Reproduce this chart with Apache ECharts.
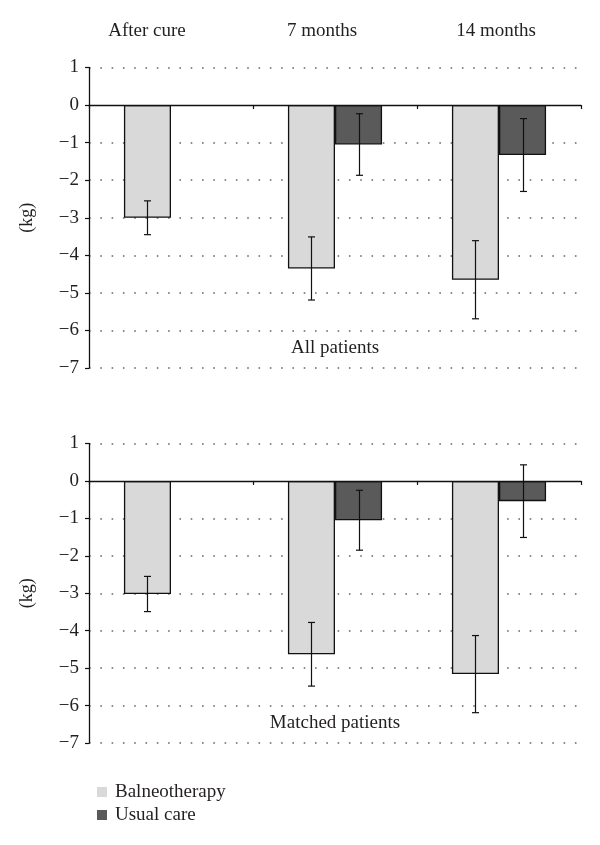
<!DOCTYPE html>
<html><head><meta charset="utf-8">
<script src="https://cdn.jsdelivr.net/npm/echarts@6/dist/echarts.min.js"></script>
<style>html,body{margin:0;padding:0;background:#fff}#c{width:600px;height:845px}</style>
</head><body><div id="c"></div>
<script>
const categories = ['After cure', '7 months', '14 months'];
const allBalneo = [-3.0, -4.35, -4.65];
const allBalneoErr = [0.45, 0.84, 1.04];
const allUsual = [null, -1.05, -1.33];
const allUsualErr = [null, 0.82, 0.97];
const matchedBalneo = [-3.02, -4.63, -5.16];
const matchedBalneoErr = [0.47, 0.85, 1.03];
const matchedUsual = [null, -1.05, -0.54];
const matchedUsualErr = [null, 0.80, 0.97];
const panelTitles = ['All patients', 'Matched patients'];
const seriesNames = ['Balneotherapy', 'Usual care'];
const yMin = -7, yMax = 1;

const FONT = 'Liberation Serif';
const TXT = '#231f20';
const BAR_FRAC = 0.287;
const colors = ['#d9d9d9', '#5a5a5a'];

function errData(means, errs) {
  const out = [];
  means.forEach((m, i) => { if (m != null) out.push([i, m, errs[i]]); });
  return out;
}
function errRender(side) {
  return function (params, api) {
    const i = api.value(0), m = api.value(1), e = api.value(2);
    const bw = api.size([1, 0])[0] * BAR_FRAC;
    const c = api.coord([i, m]);
    const x = Math.round(c[0] + side * bw / 2) + 0.5;
    const top = api.coord([i, m + e])[1];
    const bot = api.coord([i, m - e])[1];
    const cap = 3.5;
    const st = { stroke: '#111', lineWidth: 1.2 };
    return {
      type: 'group',
      children: [
        { type: 'line', shape: { x1: x, y1: top, x2: x, y2: bot }, style: st },
        { type: 'line', shape: { x1: x - cap, y1: top, x2: x + cap, y2: top }, style: st },
        { type: 'line', shape: { x1: x - cap, y1: bot, x2: x + cap, y2: bot }, style: st }
      ]
    };
  };
}

// split line colours per tick from min (-7) to max (1); the zero line is left to the solid x axis
const gridColors = [];
for (let v = yMin; v <= yMax; v++) gridColors.push(v === 0 ? 'rgba(0,0,0,0)' : '#666');

const grids = [
  { left: 89, right: 19, top: 67.5, height: 300.5 },
  { left: 89, right: 19, top: 443.5, height: 299.5 }
];
function xAx(gi) {
  return {
    type: 'category', gridIndex: gi, data: categories,
    axisLine: { onZero: true, lineStyle: { color: '#111', width: 1.4 } },
    axisTick: { show: true, length: 4, interval: 0, lineStyle: { color: '#111', width: 1.2 } },
    axisLabel: { show: false }, splitLine: { show: false }, z: 4
  };
}
function yAx(gi) {
  return {
    type: 'value', gridIndex: gi, min: yMin, max: yMax, interval: 1,
    name: '(kg)', nameLocation: 'middle', nameGap: 53, nameRotate: 90,
    nameTextStyle: { fontFamily: FONT, fontSize: 18, color: TXT },
    axisLine: { show: true, lineStyle: { color: '#111', width: 1.3 } },
    axisTick: { show: true, length: 4, lineStyle: { color: '#111', width: 1.2 } },
    axisLabel: {
      fontFamily: FONT, fontSize: 19, color: TXT, margin: 10,
      formatter: v => String(v).replace('-', '\u2212')
    },
    splitLine: { show: true, lineStyle: { color: gridColors, width: 1.6, type: [1.6, 9.7] } }
  };
}
function barSeries(name, data, gi, ci) {
  return {
    name, type: 'bar', xAxisIndex: gi, yAxisIndex: gi, data,
    barWidth: (BAR_FRAC * 100) + '%', barGap: '0%',
    itemStyle: { color: colors[ci], borderColor: '#111', borderWidth: 1.3 },
    z: 3
  };
}
function errSeries(name, means, errs, gi, side) {
  return {
    name, type: 'custom', xAxisIndex: gi, yAxisIndex: gi,
    data: errData(means, errs), renderItem: errRender(side), z: 5,
    encode: { x: 0, y: 1 }, silent: true
  };
}

const topLabels = [
  { text: categories[0], x: 147 },
  { text: categories[1], x: 322 },
  { text: categories[2], x: 496 }
];

const option = {
  backgroundColor: '#fff',
  animation: false,
  grid: grids,
  xAxis: [xAx(0), xAx(1)],
  yAxis: [yAx(0), yAx(1)],
  legend: {
    orient: 'vertical', left: 92, top: 777,
    itemWidth: 10, itemHeight: 10, itemGap: 3,
    data: seriesNames.map(n => ({ name: n, icon: 'rect', itemStyle: { borderWidth: 0 } })),
    textStyle: { fontFamily: FONT, fontSize: 19, color: TXT, lineHeight: 20, padding: [0, 0, 0, 3] }
  },
  graphic: topLabels.map(l => ({
    type: 'text', x: l.x, y: 31,
    style: { text: l.text, fontFamily: FONT, fontSize: 19, fill: TXT, align: 'center', verticalAlign: 'middle' }
  })).concat([
    { type: 'text', x: 335, y: 348, style: { text: panelTitles[0], fontFamily: FONT, fontSize: 19, fill: TXT, align: 'center', verticalAlign: 'middle' } },
    { type: 'text', x: 335, y: 723, style: { text: panelTitles[1], fontFamily: FONT, fontSize: 19, fill: TXT, align: 'center', verticalAlign: 'middle' } }
  ]),
  series: [
    barSeries(seriesNames[0], allBalneo, 0, 0),
    barSeries(seriesNames[1], allUsual, 0, 1),
    barSeries(seriesNames[0], matchedBalneo, 1, 0),
    barSeries(seriesNames[1], matchedUsual, 1, 1),
    errSeries(seriesNames[0], allBalneo, allBalneoErr, 0, -1),
    errSeries(seriesNames[1], allUsual, allUsualErr, 0, 1),
    errSeries(seriesNames[0], matchedBalneo, matchedBalneoErr, 1, -1),
    errSeries(seriesNames[1], matchedUsual, matchedUsualErr, 1, 1)
  ]
};
const chart = echarts.init(document.getElementById('c'), null, { renderer: 'canvas' });
chart.setOption(option);
</script>
</body></html>
